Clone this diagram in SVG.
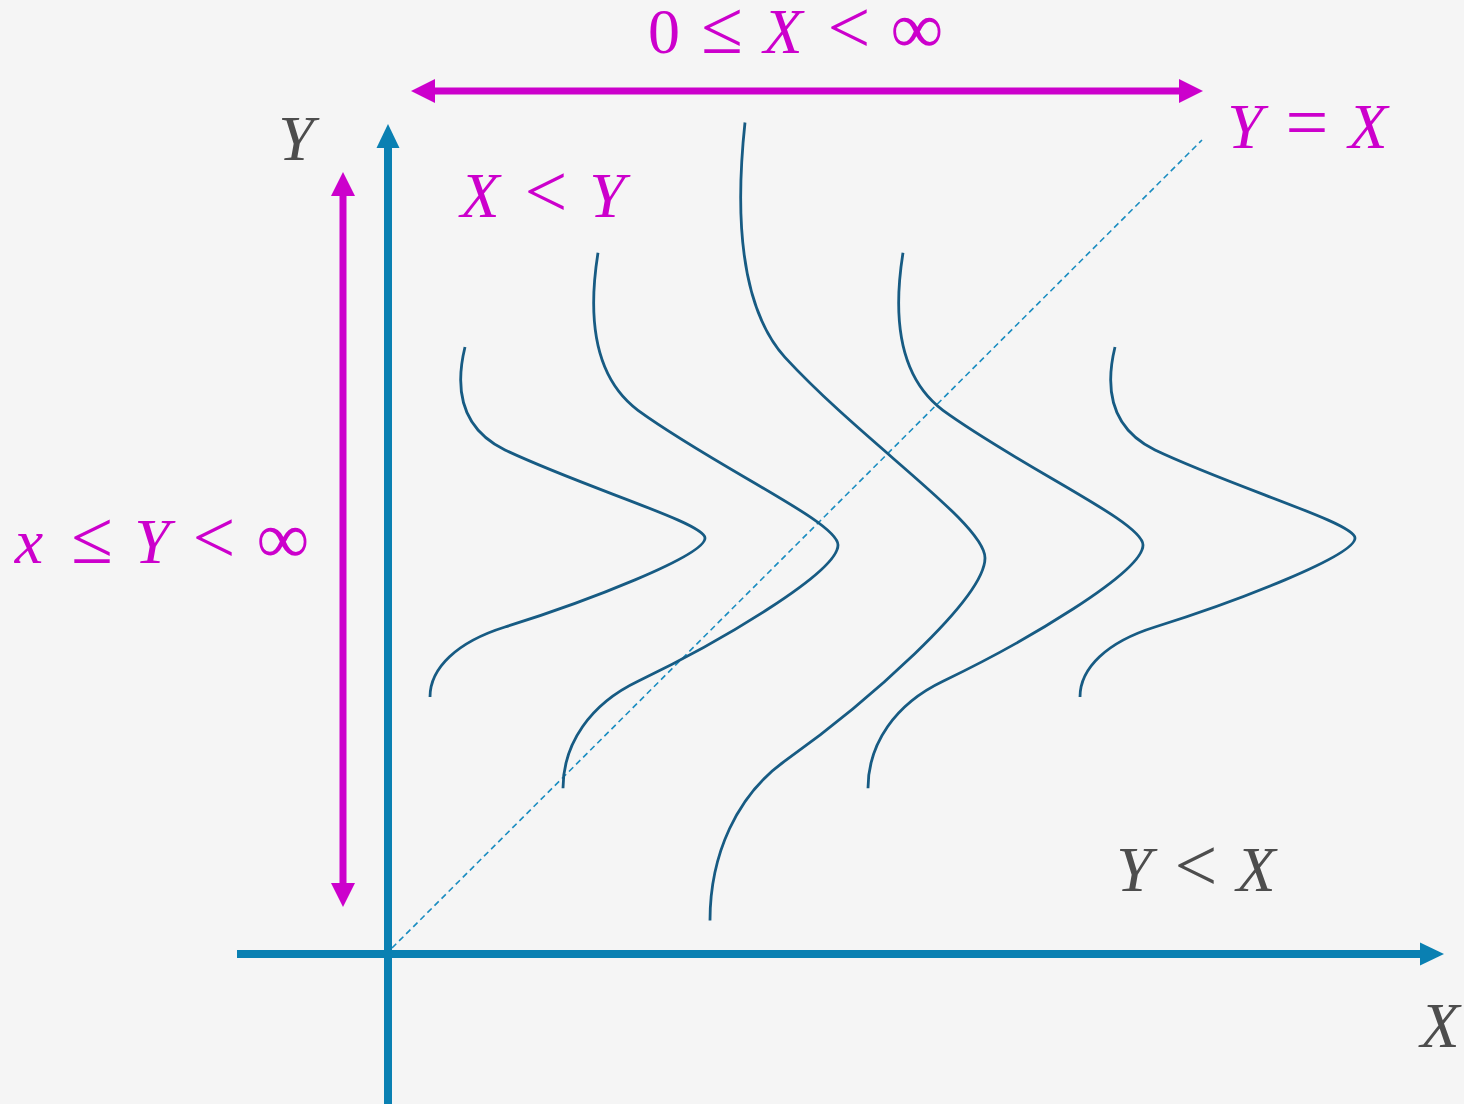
<svg xmlns="http://www.w3.org/2000/svg" width="1464" height="1104" viewBox="0 0 1464 1104">
<style>
.t{font-family:"Liberation Serif","Times New Roman",serif;font-size:64px;text-anchor:middle}
.i{font-style:italic}
.op{font-size:76px}
.eq{font-size:76px}
.inf{font-size:74px}
.m{fill:#cc00cc}
.g{fill:#4d4d4d}
.axis{stroke:#0a80b2;stroke-width:8;fill:none}
.range{stroke:#cc00cc;stroke-width:7;fill:none}
.curve{stroke:#175b83;stroke-width:2.8;fill:none}
.diag{stroke:#1a8cc0;stroke-width:1.6;stroke-dasharray:6 4;fill:none}
</style>
<defs>
<marker id="ab" viewBox="0 -12 24 24" refX="0" refY="0" markerWidth="24" markerHeight="24" markerUnits="userSpaceOnUse" orient="auto-start-reverse">
<path d="M0,-11.5 L24,0 L0,11.5 z" fill="#0a80b2"/>
</marker>
<marker id="am" viewBox="0 -12 24 24" refX="0" refY="0" markerWidth="24" markerHeight="24" markerUnits="userSpaceOnUse" orient="auto-start-reverse">
<path d="M0,-12 L24,0 L0,12 z" fill="#cc00cc"/>
</marker>
</defs>
<rect width="1464" height="1104" fill="#f5f5f5"/>
<g id="connectors">
<line class="diag" x1="392" y1="948" x2="1202" y2="140"/>
<line class="axis" x1="237" y1="954" x2="1420" y2="954" marker-end="url(#ab)"/>
<line class="axis" x1="388" y1="1104" x2="388" y2="148" marker-end="url(#ab)"/>
<line class="range" x1="435" y1="91" x2="1179" y2="91" marker-start="url(#am)" marker-end="url(#am)"/>
<line class="range" x1="343" y1="196" x2="343" y2="883" marker-start="url(#am)" marker-end="url(#am)"/>
</g>
<g id="curves">
<path id="curve1" class="curve" d="M465,347 C455,388 460,428 505,450 C585,488 705,523 705,538 C705,556 585,602 505,627 C457,642 430,668 430,697"/>
<path id="curve2" class="curve" d="M598,252.8 C588,315.5 593,376.7 638,410.4 C718,468.5 838,522 838,545 C838,572.5 718,642.9 638,681.2 C590,704.1 563,743.9 563,788.3"/>
<path id="curve3" class="curve" d="M745,122.5 C735,216 740,307.2 785,357.4 C865,444 985,523.8 985,558 C985,599 865,703.9 785,760.9 C737,795.1 710,854.4 710,920.5"/>
<path id="curve4" class="curve" d="M903,252.8 C893,315.5 898,376.7 943,410.4 C1023,468.5 1143,522 1143,545 C1143,572.5 1023,642.9 943,681.2 C895,704.1 868,743.9 868,788.3"/>
<path id="curve5" class="curve" d="M1115,347 C1105,388 1110,428 1155,450 C1235,488 1355,523 1355,538 C1355,556 1235,602 1155,627 C1107,642 1080,668 1080,697"/>
</g>
<g id="labels">
<text class="t m" y="53"><tspan x="664">0</tspan><tspan x="722" class="op">≤</tspan><tspan x="783" class="i">X</tspan><tspan x="849" class="op">&lt;</tspan><tspan x="917" class="inf">∞</tspan></text>
<text class="t m" y="148"><tspan x="1245" class="i">Y</tspan><tspan x="1307" class="eq">=</tspan><tspan x="1368" class="i">X</tspan></text>
<text class="t m" y="217"><tspan x="480" class="i">X</tspan><tspan x="546" class="op">&lt;</tspan><tspan x="607" class="i">Y</tspan></text>
<text class="t m" y="563"><tspan x="29" class="i">x</tspan><tspan x="92" class="op">≤</tspan><tspan x="152" class="i">Y</tspan><tspan x="214" class="op">&lt;</tspan><tspan x="283" class="inf">∞</tspan></text>
<text class="t g i" x="296" y="160">Y</text>
<text class="t g" y="891"><tspan x="1134" class="i">Y</tspan><tspan x="1196" class="op">&lt;</tspan><tspan x="1256" class="i">X</tspan></text>
<text class="t g i" x="1440" y="1047">X</text>
</g>
</svg>
